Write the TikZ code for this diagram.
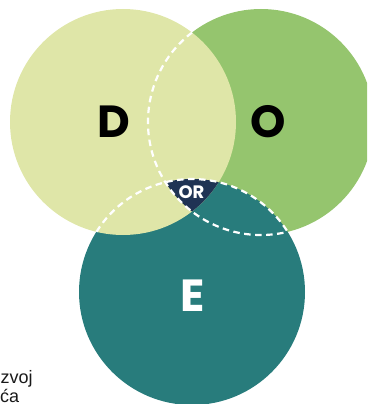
\documentclass[tikz,border=0pt]{standalone}
\usepackage{fontspec}
\setmainfont{Liberation Sans}
\newfontfamily\pop{Poppins}
\definecolor{cD}{HTML}{DFE6A8}
\definecolor{cO}{HTML}{95C56E}
\definecolor{cE}{HTML}{287C7C}
\definecolor{cN}{HTML}{1F3354}
\tikzset{
  disc/.style={circle,minimum size=226pt,inner sep=0pt,outer sep=0pt},
  biglabel/.style={font=\pop\bfseries\fontsize{45}{45}\selectfont,inner sep=0pt},
  sidetext/.style={font=\fontsize{18}{20}\selectfont,text=black!90,inner sep=0pt,anchor=base west},
  dashline/.style={draw=white,line width=2.2pt,dash pattern=on 6.5pt off 4.5pt}
}
\begin{document}
\begin{tikzpicture}[x=1pt,y=-1pt]
\useasboundingbox (0,0) rectangle (367,404);
\begin{scope}
\clip (0,0) rectangle (367,404);
\node[disc,fill=cO] (o) at (261,122) {};
\node[disc,fill=cE] (e) at (192,292) {};
\node[disc,fill=cD] (d) at (123,122) {};
\begin{scope}
\clip (123,122) circle (113);
\clip (261,122) circle (113);
\fill[cN] (192,292) circle (113);
\end{scope}
\draw[dashline] (192,32.5) arc[start angle=-127.6,end angle=-283.6,radius=113];
\draw[dashline] (96.4,231.8) arc[start angle=-147.8,end angle=-32.2,radius=113];
\end{scope}
\node[biglabel,text=black] (ld) at (114,122) {D};
\node[biglabel,text=black] (lo) at (268,122) {O};
\node[biglabel,text=white] (le) at (193,296) {E};
\node[font=\pop\bfseries\fontsize{18}{18}\selectfont,text=white,inner sep=0pt] (lor) at (191.5,192.5) {OR};
\node[sidetext] (t1) at (0.5,383) {zvoj};
\node[sidetext] (t2) at (0,402.5) {ća};
\end{tikzpicture}
\end{document}
